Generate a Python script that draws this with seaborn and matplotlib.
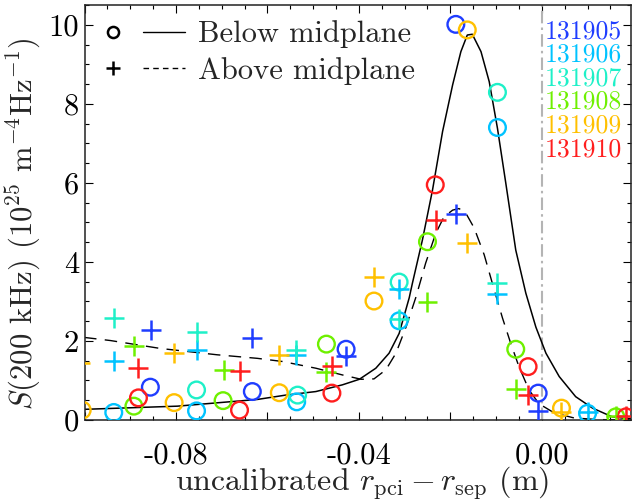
import matplotlib
matplotlib.use("Agg")
import matplotlib.pyplot as plt
from matplotlib.lines import Line2D
from matplotlib.legend_handler import HandlerTuple
from matplotlib.ticker import MultipleLocator, FuncFormatter
import seaborn as sns
import pandas as pd
import numpy as np

# shots and their colours
shots = ["131905", "131906", "131907", "131908", "131909", "131910"]
shot_colors = ["#1f3dff", "#00c3ff", "#1ef0c8", "#6ef000", "#ffc000", "#ff1e1e"]

# below midplane (circles), one list per shot
below_x = [
    [-0.0856, -0.0633, -0.0428, -0.0188, -0.0008],
    [-0.0936, -0.0755, -0.0536, -0.0312, -0.0097, 0.0100],
    [-0.0755, -0.0534, -0.0312, -0.0097],
    [-0.0892, -0.0697, -0.0471, -0.0250, -0.0057, 0.0162],
    [-0.1005, -0.0804, -0.0574, -0.0367, -0.0163, 0.0043],
    [-0.0882, -0.0661, -0.0459, -0.0233, -0.0030, 0.0184],
]
below_y = [
    [0.83, 0.72, 1.79, 10.01, 0.68],
    [0.19, 0.23, 0.46, 2.51, 7.40, 0.17],
    [0.76, 0.63, 3.49, 8.29],
    [0.35, 0.49, 1.92, 4.51, 1.79, 0.08],
    [0.25, 0.44, 0.69, 3.01, 9.87, 0.30],
    [0.56, 0.25, 0.68, 5.95, 1.35, 0.08],
]

# above midplane (pluses)
above_x = [
    [-0.0854, -0.0633, -0.0428, -0.0187, -0.0008],
    [-0.0936, -0.0755, -0.0538, -0.0312, -0.0097, 0.0100],
    [-0.0936, -0.0755, -0.0538, -0.0312, -0.0097],
    [-0.0892, -0.0695, -0.0471, -0.0250, -0.0057, 0.0162],
    [-0.1009, -0.0804, -0.0574, -0.0367, -0.0163, 0.0043],
    [-0.0882, -0.0661, -0.0458, -0.0232, -0.0030, 0.0184],
]
above_y = [
    [2.28, 2.08, 1.62, 5.20, 0.23],
    [1.49, 1.77, 1.65, 3.32, 3.19, 0.20],
    [2.57, 2.22, 1.77, 2.56, 3.47],
    [1.86, 1.27, 1.22, 2.99, 0.78, 0.10],
    [1.44, 1.69, 1.65, 3.62, 4.49, 0.21],
    [1.32, 1.25, 1.37, 5.07, 0.63, 0.10],
]

# fitted profiles
solid_x = [-0.1000, -0.0797, -0.0622, -0.0560, -0.0494, -0.0436, -0.0399, -0.0363,
           -0.0334, -0.0312, -0.0290, -0.0283, -0.0261, -0.0239, -0.0217, -0.0195,
           -0.0177, -0.0163, -0.0152, -0.0133, -0.0115, -0.0097, -0.0079, -0.0057,
           -0.0035, -0.0013, 0.0009, 0.0038, 0.0074, 0.0111, 0.0154, 0.0184, 0.0200]
solid_y = [0.27, 0.35, 0.52, 0.63, 0.72, 0.89, 1.03, 1.31,
           1.69, 2.19, 3.09, 3.46, 4.56, 5.82, 7.30, 8.48,
           9.32, 9.74, 9.76, 9.32, 8.56, 7.38, 6.01, 4.30,
           3.21, 2.35, 1.69, 1.10, 0.59, 0.30, 0.08, 0.04, 0.03]
dashed_x = [-0.1001, -0.0943, -0.0834, -0.0710, -0.0622, -0.0567, -0.0494, -0.0436,
            -0.0395, -0.0367, -0.0341, -0.0319, -0.0297, -0.0275, -0.0254, -0.0232,
            -0.0214, -0.0195, -0.0181, -0.0166, -0.0148, -0.0126, -0.0104, -0.0086,
            -0.0068, -0.0050, -0.0028, -0.0006, 0.0027, 0.0071, 0.0125, 0.0191]
dashed_y = [2.09, 2.01, 1.81, 1.65, 1.56, 1.48, 1.31, 1.14,
            1.03, 1.04, 1.27, 1.69, 2.35, 3.12, 3.97, 4.72,
            5.14, 5.31, 5.35, 5.23, 4.86, 4.18, 3.29, 2.58,
            1.94, 1.35, 0.76, 0.41, 0.18, 0.05, 0.01, 0.0]

x_ticklabels = {-0.08: "-0.08", -0.04: "-0.04", 0.0: "0.00"}


def to_frame(xs, ys):
    rows = []
    for shot, sx, sy in zip(shots, xs, ys):
        for a, b in zip(sx, sy):
            rows.append({"r": a, "S": b, "shot": shot})
    return pd.DataFrame(rows)


below = to_frame(below_x, below_y)
above = to_frame(above_x, above_y)
palette = dict(zip(shots, shot_colors))

sns.set_style("ticks")
plt.rcParams["font.family"] = "serif"
plt.rcParams["font.serif"] = ["cmr10"]
plt.rcParams["mathtext.fontset"] = "cm"
plt.rcParams["axes.unicode_minus"] = False
plt.rcParams["axes.formatter.use_mathtext"] = True

fig = plt.figure(figsize=(6.32, 5.0), dpi=100)
ax = fig.add_axes([84.5 / 632, 80 / 500, 546.5 / 632, 415 / 500])

# separatrix
ax.axvline(0.0, color="#b4b4b4", lw=1.5, dashes=(6, 2, 1.2, 2), zorder=1)

sns.lineplot(x=solid_x, y=solid_y, color="k", lw=1.1, ax=ax, zorder=2)
sns.lineplot(x=dashed_x, y=dashed_y, color="k", lw=1.0, ax=ax, zorder=2)
ax.lines[-1].set_dashes((9, 6))

sns.scatterplot(data=below, x="r", y="S", hue="shot", palette=palette,
                marker="o", s=144, linewidth=1.7, legend=False, ax=ax, zorder=3)
circ = ax.collections[-1]
fc = circ.get_facecolors()
circ.set_edgecolors(fc)
circ.set_facecolors("none")

sns.scatterplot(data=above, x="r", y="S", hue="shot", palette=palette,
                marker="+", s=207, linewidth=1.8, legend=False, ax=ax, zorder=3)

ax.set_xlim(-0.1, 0.0195)
ax.set_ylim(0, 10.5)
ax.xaxis.set_major_locator(MultipleLocator(0.02))
ax.xaxis.set_minor_locator(MultipleLocator(0.005))
ax.xaxis.set_major_formatter(FuncFormatter(
    lambda v, p: x_ticklabels.get(round(v, 2), "")))
ax.yaxis.set_major_locator(MultipleLocator(2))
ax.yaxis.set_minor_locator(MultipleLocator(0.5))
ax.yaxis.set_major_formatter(FuncFormatter(lambda v, p: f"{v:.0f}"))

ax.tick_params(which="both", direction="in", top=True, right=True,
               width=0.8, colors="k", labelsize=22)
ax.tick_params(which="major", length=5.5)
ax.tick_params(which="minor", length=3)
ax.tick_params(axis="x", pad=16)
ax.tick_params(axis="y", pad=4)
for s in ax.spines.values():
    s.set_linewidth(1.1)
    s.set_color("#222222")

ax.set_xlabel(r"uncalibrated $r_{\rm pci} - r_{\rm sep}$ (m)", fontsize=23)
ax.xaxis.set_label_coords(0.507, -0.153)
ax.xaxis.label.set_va("center")
ax.set_ylabel(r"$S$(200 kHz) (10$^{25}$ m$^{-4}$Hz$^{-1}$)", fontsize=22)
ax.yaxis.set_label_coords(-0.113, 0.472)
ax.yaxis.label.set_va("center")

# legend: marker + line sample
h_below = (Line2D([], [], marker="o", ls="none", mfc="none", mec="k", mew=1.8, ms=8),
           Line2D([], [], color="k", lw=1.0))
h_above = (Line2D([], [], marker="+", ls="none", mec="k", mew=1.8, ms=10),
           Line2D([], [], color="k", lw=1.0, dashes=(4, 3)))
ax.legend([h_below, h_above], ["Below midplane", "Above midplane"],
          handler_map={tuple: HandlerTuple(ndivide=None, pad=0.29)},
          loc="upper left", bbox_to_anchor=(7.5 / 546.5, 0.963),
          frameon=False, fontsize=22, handlelength=3.04, handletextpad=0.42,
          labelspacing=0.29, borderpad=0, borderaxespad=0)

# shot labels on the right
for i, (shot, c) in enumerate(zip(shots, shot_colors)):
    ax.text(0.8426, 0.937 - i * 0.0569, shot, color=c, fontsize=18.5,
            transform=ax.transAxes, va="center", ha="left")

fig.savefig("out.png", dpi=100)
